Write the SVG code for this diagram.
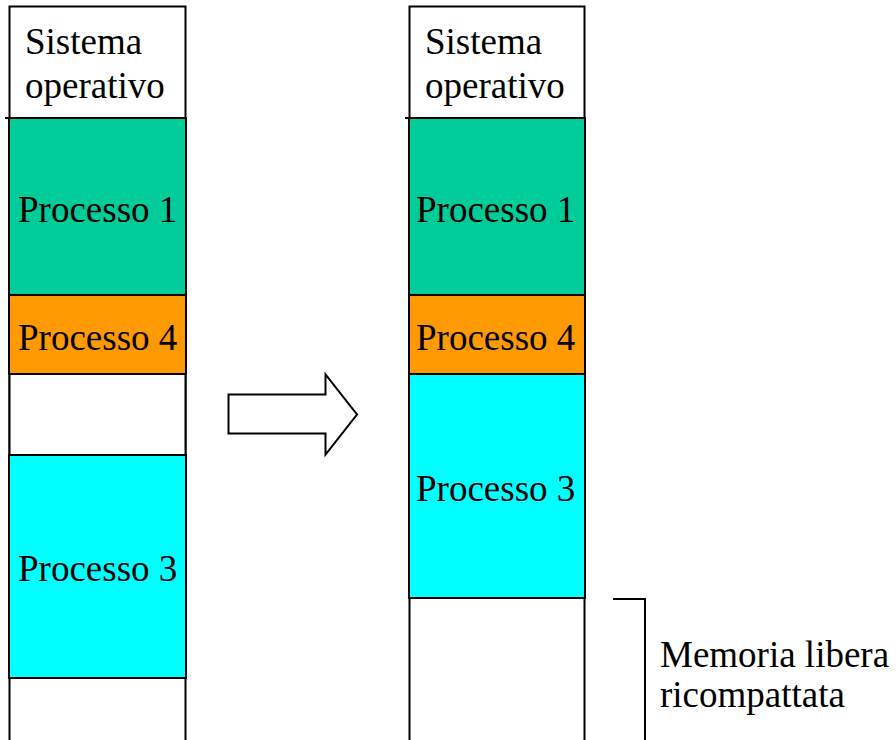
<svg xmlns="http://www.w3.org/2000/svg" width="896" height="740" viewBox="0 0 896 740">
<style>
text{font-family:"Liberation Serif","Times New Roman",serif;font-size:37px;fill:#000}
.blk{fill:none;stroke:#000;stroke-width:2}
.g{fill:#00CC99;stroke:#000;stroke-width:2}
.o{fill:#FF9900;stroke:#000;stroke-width:2}
.c{fill:#00FFFF;stroke:#000;stroke-width:2}
.w{fill:#fff;stroke:#000;stroke-width:2}
</style>
<rect width="896" height="740" fill="#fff"/>
<g id="left-column">
<path class="blk" d="M9.5,741 V6.5 H185.5 V741"/>
<g id="left-os"><line x1="5" y1="118" x2="186" y2="118" stroke="#000" stroke-width="2"/><text x="25" y="54">Sistema</text><text x="25" y="98">operativo</text></g>
<g id="left-p1"><rect class="g" x="9" y="118" width="177" height="177"/><text x="18" y="222">Processo 1</text></g>
<g id="left-p4"><rect class="o" x="9" y="295" width="177" height="79"/><text x="18" y="350">Processo 4</text></g>
<g id="left-free"><rect class="w" x="9.5" y="374" width="176" height="81"/></g>
<g id="left-p3"><rect class="c" x="9" y="455" width="177" height="223"/><text x="18" y="581">Processo 3</text></g>
</g>
<g id="right-column">
<path class="blk" d="M409.5,741 V6.5 H584.5 V741"/>
<g id="right-os"><line x1="405" y1="118" x2="585" y2="118" stroke="#000" stroke-width="2"/><text x="425" y="54">Sistema</text><text x="425" y="98">operativo</text></g>
<g id="right-p1"><rect class="g" x="409" y="118" width="176" height="177"/><text x="416" y="222">Processo 1</text></g>
<g id="right-p4"><rect class="o" x="409" y="295" width="176" height="79"/><text x="416" y="350">Processo 4</text></g>
<g id="right-p3"><rect class="c" x="409" y="374" width="176" height="224"/><text x="416" y="501">Processo 3</text></g>
</g>
<g id="connectors">
<polygon class="w" points="228.5,394.5 325.5,394.5 325.5,374.5 357,414.5 325.5,454.5 325.5,433.5 228.5,433.5"/>
<path class="blk" d="M613,599 H645 V741"/>
</g>
<g id="label-free">
<text x="660" y="667">Memoria libera</text>
<text x="660" y="707">ricompattata</text>
</g>
</svg>
